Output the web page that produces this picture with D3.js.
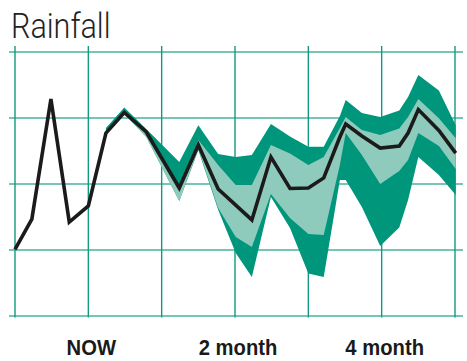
<!DOCTYPE html>
<html>
<head>
<meta charset="utf-8">
<script src="https://cdn.jsdelivr.net/npm/d3@7"></script>
<style>
  html, body { margin: 0; padding: 0; background: #fff; }
  svg { display: block; }
</style>
</head>
<body>
<svg id="chart" width="467" height="361"></svg>
<script>
// Months relative to NOW for each reading
const months = [-1.00, -0.77, -0.51, -0.26, 0.00, 0.24, 0.49, 0.79, 1.24, 1.50, 1.77, 2.01, 2.23,
                2.49, 2.75, 3.00, 3.21, 3.43, 3.51, 3.73, 3.98, 4.24, 4.36, 4.50, 4.78, 5.01];
// Observed / median forecast rainfall
const median = [25.2, 36.7, 82.2, 35.6, 41.7, 69.3, 77.1, 69.7, 48.5, 64.8, 48.1, 42.0, 36.4,
                60.2, 48.3, 48.5, 52.3, 67.8, 72.7, 68.2, 63.6, 64.4, 69.3, 78.2, 70.3, 61.7];
// Forecast ranges (null = no forecast yet)
const outerHigh = [null, null, null, null, null, 71.2, 79.0, 70.8, 58.3, 72.3, 61.4, 60.2, 61.0,
                   72.7, 68.0, 64.1, 64.1, 75.8, 81.8, 76.9, 75.4, 77.8, 83.0, 91.3, 85.4, 72.3];
const innerHigh = [null, null, null, null, null, 70.1, 77.7, 69.7, 48.5, 66.7, 57.2, 49.6, 49.6,
                   64.8, 61.6, 57.2, 60.2, 71.2, 75.4, 70.5, 68.6, 71.0, 75.4, 82.2, 74.9, 67.3];
const innerLow  = [null, null, null, null, null, 68.9, 76.5, 67.8, 43.6, 63.3, 40.9, 29.9, 26.1,
                   46.2, 37.1, 31.1, 30.7, 57.2, 69.3, 61.0, 50.0, 54.9, 59.1, 69.3, 64.4, 55.7];
const outerLow  = [null, null, null, null, null, 68.9, 76.5, 67.8, 43.6, 62.9, 40.2, 23.9, 14.8,
                   45.1, 33.3, 16.1, 14.8, 51.5, 51.5, 41.3, 26.5, 33.5, 43.9, 60.2, 53.4, 45.8];
const gridMonths = [-1, 0, 1, 2, 3, 4, 5];
const gridValues = [0, 25, 50, 75, 100];
const tickLabels = [{m: 0, label: "NOW"}, {m: 2, label: "2 month"}, {m: 4, label: "4 month"}];
const title = "Rainfall";

const svg = d3.select("#chart");
const x = d3.scaleLinear().domain([-1, 5]).range([15, 455]);
const y = d3.scaleLinear().domain([0, 100]).range([316, 52]);

const rows = months.map((m, i) => ({
  m, med: median[i], oh: outerHigh[i], ih: innerHigh[i], il: innerLow[i], ol: outerLow[i]
}));
const fc = rows.filter(d => d.oh !== null);

// grid
svg.append("g").selectAll("line").data(gridValues).join("line")
  .attr("x1", 9).attr("x2", 463)
  .attr("y1", d => y(d)).attr("y2", d => y(d))
  .attr("stroke", "#76c6b5").attr("stroke-width", 2);
svg.append("g").selectAll("line").data(gridMonths).join("line")
  .attr("x1", d => x(d)).attr("x2", d => x(d))
  .attr("y1", 46).attr("y2", 317.5)
  .attr("stroke", "#129a80").attr("stroke-width", 1.4);

// bands
svg.append("path").datum(fc)
  .attr("d", d3.area().x(d => x(d.m)).y0(d => y(d.ol)).y1(d => y(d.oh)))
  .attr("fill", "#00967b");
svg.append("path").datum(fc)
  .attr("d", d3.area().x(d => x(d.m)).y0(d => y(d.il)).y1(d => y(d.ih)))
  .attr("fill", "#8ecbbc");

// median line
svg.append("path").datum(rows)
  .attr("d", d3.line().x(d => x(d.m)).y(d => y(d.med)))
  .attr("fill", "none").attr("stroke", "#1b1b1b").attr("stroke-width", 3.6)
  .attr("stroke-linejoin", "miter").attr("stroke-miterlimit", 6);

// x labels
svg.append("g").selectAll("text").data(tickLabels).join("text")
  .attr("transform", d => `translate(${x(d.m) + 3},355) scale(0.92,1)`)
  .attr("text-anchor", "middle")
  .attr("font-family", "'Liberation Sans', Arial, sans-serif")
  .attr("font-weight", "bold").attr("font-size", 22)
  .attr("fill", "#1a1a1a")
  .text(d => d.label);

// title
svg.append("text")
  .attr("transform", "translate(11,37.5) scale(0.86,1)")
  .attr("font-family", "Roboto, 'Open Sans', sans-serif")
  .attr("font-weight", 300).attr("font-size", 35.5)
  .attr("fill", "#222")
  .text(title);
</script>
</body>
</html>
